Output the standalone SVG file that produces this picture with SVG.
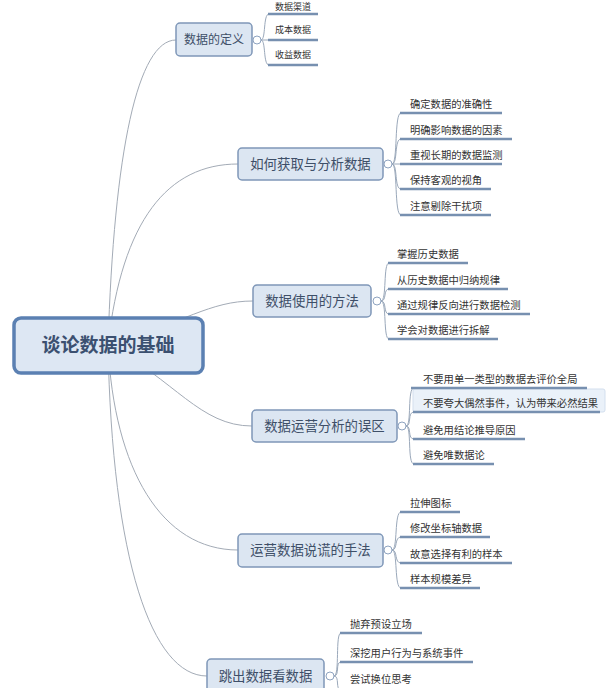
<svg xmlns="http://www.w3.org/2000/svg" width="614" height="688" viewBox="0 0 614 688">
<style>
text{font-family:"Noto Sans CJK SC","Noto Sans",sans-serif;}
.br rect{fill:#dce6f2;stroke:#7f97b8;stroke-width:1.5;}
.br text{font-size:13.4px;fill:#3e4f68;text-anchor:middle;}
.sub text{font-size:10.3px;fill:#333;}
.sub line{stroke:#7790b0;stroke-width:2.4;}
.conn path{fill:none;stroke:#a3abb6;stroke-width:1;}
.tw path{fill:none;stroke:#9aa8ba;stroke-width:1;}
circle.k{fill:#fff;stroke:#8ea3c0;stroke-width:1;}
</style>
<rect width="614" height="688" fill="#fff"/>
<g id="connectors" class="conn">
<path d="M108,345 C114,150 138,40 176,40"/>
<path d="M108,345 C122,220 168,164 238,164"/>
<path d="M108,345 C185,322 210,301 253,301"/>
<path d="M108,345 C175,380 200,426 252,426"/>
<path d="M108,345 C114,470 162,550 238,550"/>
<path d="M108,345 C112,560 152,676 207,676"/>
</g>
<g class="tw">
<path d="M261,40 C266,40 263,14 269,14"/><path d="M261,40 L269,40"/><path d="M261,40 C266,40 263,65 269,65"/>
<path d="M392,164 C398,164 394,113 401,113"/><path d="M392,164 C398,164 394,139 401,139"/><path d="M392,164 L401,164"/><path d="M392,164 C398,164 394,189 401,189"/><path d="M392,164 C398,164 394,215 401,215"/>
<path d="M381,301 C387,301 383,263 389,263"/><path d="M381,301 C387,301 383,289 389,289"/><path d="M381,301 C387,301 383,314 389,314"/><path d="M381,301 C387,301 383,339 389,339"/>
<path d="M406,426 C412,426 407,388 414,388"/><path d="M406,426 C412,426 407,412 414,412"/><path d="M406,426 C412,426 407,439 414,439"/><path d="M406,426 C412,426 407,464 414,464"/>
<path d="M392,550 C398,550 394,512 401,512"/><path d="M392,550 C398,550 394,537 401,537"/><path d="M392,550 C398,550 394,563 401,563"/><path d="M392,550 C398,550 394,588 401,588"/>
<path d="M334,676 C340,676 335,633 341,633"/><path d="M334,676 C340,676 335,662 341,662"/><path d="M334,676 C340,676 335,690 341,690"/>
</g>
<g id="root">
<rect x="14" y="318" width="189" height="55" rx="7" fill="#dde7f3" stroke="#5b80b2" stroke-width="3.5"/>
<text x="108" y="352" font-size="19" font-weight="bold" fill="#3b5070" text-anchor="middle">谈论数据的基础</text>
</g>
<g id="b1">
<g class="br"><rect x="176" y="23" width="76" height="33" rx="4"/><text x="214" y="44" style="font-size:12px">数据的定义</text></g>
<circle class="k" cx="257" cy="40" r="4"/>
<g class="sub">
<line x1="268" y1="14" x2="318" y2="14"/><text x="275" y="10" style="font-size:9px">数据渠道</text>
<line x1="268" y1="40" x2="318" y2="40"/><text x="275" y="33" style="font-size:9px">成本数据</text>
<line x1="268" y1="65" x2="318" y2="65"/><text x="275" y="58" style="font-size:9px">收益数据</text>
</g>
</g>
<g id="b2">
<g class="br"><rect x="238" y="148" width="145" height="32" rx="4"/><text x="310.5" y="169">如何获取与分析数据</text></g>
<circle class="k" cx="388" cy="164" r="4"/>
<g class="sub">
<line x1="400" y1="113" x2="502" y2="113"/><text x="410" y="108">确定数据的准确性</text>
<line x1="400" y1="139" x2="512" y2="139"/><text x="410" y="134">明确影响数据的因素</text>
<line x1="400" y1="164" x2="502" y2="164"/><text x="410" y="159">重视长期的数据监测</text>
<line x1="400" y1="189" x2="491" y2="189"/><text x="410" y="184">保持客观的视角</text>
<line x1="400" y1="215" x2="491" y2="215"/><text x="410" y="210">注意剔除干扰项</text>
</g>
</g>
<g id="b3">
<g class="br"><rect x="253" y="285" width="118" height="32" rx="4"/><text x="312" y="306">数据使用的方法</text></g>
<circle class="k" cx="377" cy="301" r="4"/>
<g class="sub">
<line x1="388" y1="263" x2="468" y2="263"/><text x="397" y="258">掌握历史数据</text>
<line x1="388" y1="289" x2="508" y2="289"/><text x="397" y="284">从历史数据中归纳规律</text>
<line x1="388" y1="314" x2="530" y2="314"/><text x="397" y="309">通过规律反向进行数据检测</text>
<line x1="388" y1="339" x2="498" y2="339"/><text x="397" y="334">学会对数据进行拆解</text>
</g>
</g>
<g id="b4">
<g class="br"><rect x="252" y="410" width="145" height="32" rx="4"/><text x="324.5" y="431">数据运营分析的误区</text></g>
<circle class="k" cx="402" cy="426" r="4"/>
<rect x="413" y="389" width="192" height="23" rx="2" fill="#eaf1f9" stroke="#d3dfee" stroke-width="1"/>
<g class="sub">
<line x1="411" y1="388" x2="587" y2="388"/><text x="423" y="383">不要用单一类型的数据去评价全局</text>
<line x1="413" y1="412" x2="600" y2="412"/><text x="423" y="407">不要夸大偶然事件，认为带来必然结果</text>
<line x1="413" y1="439" x2="525" y2="439"/><text x="423" y="434">避免用结论推导原因</text>
<line x1="413" y1="464" x2="494" y2="464"/><text x="423" y="459">避免唯数据论</text>
</g>
</g>
<g id="b5">
<g class="br"><rect x="238" y="534" width="145" height="33" rx="4"/><text x="310.5" y="555">运营数据说谎的手法</text></g>
<circle class="k" cx="388" cy="550" r="4"/>
<g class="sub">
<line x1="400" y1="512" x2="460" y2="512"/><text x="410" y="507">拉伸图标</text>
<line x1="400" y1="537" x2="490" y2="537"/><text x="410" y="532">修改坐标轴数据</text>
<line x1="400" y1="563" x2="512" y2="563"/><text x="410" y="558">故意选择有利的样本</text>
<line x1="400" y1="588" x2="480" y2="588"/><text x="410" y="583">样本规模差异</text>
</g>
</g>
<g id="b6">
<g class="br"><rect x="207" y="659" width="117" height="34" rx="4"/><text x="265.5" y="681">跳出数据看数据</text></g>
<circle class="k" cx="330" cy="676" r="4"/>
<g class="sub">
<line x1="340" y1="633" x2="422" y2="633"/><text x="350" y="628">抛弃预设立场</text>
<line x1="340" y1="662" x2="473" y2="662"/><text x="350" y="657">深挖用户行为与系统事件</text>
<line x1="340" y1="690" x2="420" y2="690"/><text x="350" y="683">尝试换位思考</text>
</g>
</g>
</svg>
